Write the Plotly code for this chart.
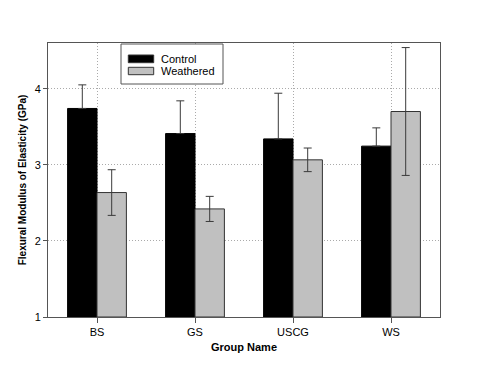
import plotly.graph_objects as go

groups = ["BS", "GS", "USCG", "WS"]
control = [3.74, 3.41, 3.34, 3.245]
control_err = [0.31, 0.43, 0.60, 0.24]
weathered = [2.635, 2.42, 3.065, 3.70]
weathered_err = [0.30, 0.165, 0.155, 0.84]
y_ticks = [1, 2, 3, 4]
series_names = ["Control", "Weathered"]
series_colors = ["black", "#c0c0c0"]

# page body has an 8px default margin; plot area should sit at 48..440 x 43..317 on the page
OFF = 8
L, T, PW, PH = 48 - OFF, 43 - OFF, 392, 274

fig = go.Figure()
fig.add_trace(go.Bar(
    x=groups, y=[v - 1 for v in control], base=1, name=series_names[0],
    marker=dict(color=series_colors[0], line=dict(color="black", width=1)),
    error_y=dict(type="data", array=control_err, arrayminus=[0] * len(control_err),
                 color="#3a3a3a", thickness=1, width=4),
))
fig.add_trace(go.Bar(
    x=groups, y=[v - 1 for v in weathered], base=1, name=series_names[1],
    marker=dict(color=series_colors[1], line=dict(color="#333333", width=1)),
    error_y=dict(type="data", array=weathered_err, color="#3a3a3a", thickness=1, width=4),
))

def px(xp):
    return (xp - 48) / PW

def py(yp):
    return 1 - (yp - 43) / PH

# custom legend (paper coordinates)
shapes = [dict(type="rect", xref="paper", yref="paper", x0=px(121), x1=px(223), y0=py(84), y1=py(44),
               line=dict(color="#555555", width=1), fillcolor="white", layer="above")]
annotations = []
sw_y = [(62.7, 55), (74.7, 67.3)]
for i, name in enumerate(series_names):
    y0, y1 = py(sw_y[i][0]), py(sw_y[i][1])
    shapes.append(dict(type="rect", xref="paper", yref="paper", x0=px(128.3), x1=px(153.7),
                       y0=y0, y1=y1, fillcolor=series_colors[i], line=dict(color="#333333", width=1),
                       layer="above"))
    annotations.append(dict(xref="paper", yref="paper", x=px(158.5), y=(y0 + y1) / 2,
                            text=name, showarrow=False, xanchor="left", yanchor="middle",
                            font=dict(size=11, color="black")))

fig.update_layout(
    width=477 - OFF, height=371 - OFF,
    margin=dict(l=L, r=477 - OFF - L - PW, t=T, b=371 - OFF - T - PH, pad=0),
    paper_bgcolor="white", plot_bgcolor="white",
    barmode="group", bargap=0.4, bargroupgap=0,
    font=dict(family="Liberation Sans, Arial, sans-serif", size=11, color="black"),
    showlegend=False,
    shapes=shapes, annotations=annotations,
)
fig.update_xaxes(
    range=[-0.5, 3.5], showline=True, linecolor="#555555", linewidth=1, mirror=True,
    ticks="outside", ticklen=5, tickcolor="#555555", automargin=False,
    showgrid=True, gridcolor="#aaaaaa", griddash="1px,2px", gridwidth=1,
    title=dict(text="<b>Group Name</b>", standoff=6, font=dict(size=11)),
)
fig.update_yaxes(
    range=[1, 4.6], tickvals=y_ticks, showline=True, linecolor="#555555", linewidth=1, mirror=True,
    ticks="outside", ticklen=4, tickcolor="#555555", automargin=False,
    showgrid=True, gridcolor="#aaaaaa", griddash="1px,2px", gridwidth=1, zeroline=False,
    title=dict(text="<b>Flexural Modulus of Elasticity (GPa)</b>", standoff=6, font=dict(size=10)),
)

fig.write_html("out.html")
